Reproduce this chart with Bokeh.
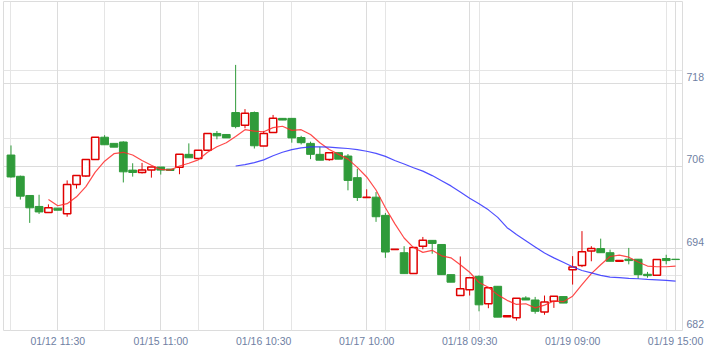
from bokeh.plotting import figure
from bokeh.models import Range1d, LinearAxis, FixedTicker, Grid, ColumnDataSource
from bokeh.embed import file_html
from bokeh.resources import INLINE

# ---- data ----
opens = [707.6, 704.5, 701.7, 700.1, 699.2, 699.85, 699.05, 703.3, 704.55, 706.95,
         710.2, 709.3, 709.5, 705.4, 705.05, 705.4, 705.85, 705.55, 705.8, 707.7,
         707.1, 708.3, 710.75, 710.6, 713.8, 711.95, 713.8, 708.9, 710.9, 712.95,
         712.95, 710.15, 709.3, 707.7, 706.95, 707.95, 707.45, 704.3, 701.4, 701.45,
         698.8, 693.8, 693.35, 690.3, 694.3, 695.15, 694.55, 690.15, 687.1, 687.95,
         689.9, 685.9, 688.45, 684.0, 683.85, 686.75, 686.45, 684.7, 686.25, 686.95,
         690.85, 691.5, 693.6, 693.95, 693.35, 692.1, 692.4, 692.4, 690.2, 690.05,
         692.5, 692.4]
highs = [709.0, 704.6, 701.7, 701.8, 700.4, 699.85, 703.9, 704.6, 706.95, 710.2,
         710.5, 709.3, 709.6, 706.4, 706.45, 705.85, 705.85, 705.55, 707.7, 709.3,
         708.3, 710.75, 711.1, 710.6, 720.75, 714.3, 713.95, 711.1, 713.45, 712.95,
         712.95, 710.4, 709.55, 708.8, 707.95, 707.95, 707.75, 705.6, 702.6, 702.2,
         699.15, 693.85, 694.3, 694.2, 695.65, 695.15, 694.55, 690.15, 692.8, 689.7,
         690.05, 688.25, 688.45, 684.15, 686.7, 687.0, 686.9, 687.1, 687.0, 686.95,
         692.85, 696.5, 694.3, 695.4, 693.8, 692.2, 694.05, 692.4, 690.55, 692.35,
         693.05, 692.4]
lows = [704.3, 701.1, 697.7, 699.0, 699.2, 699.55, 698.6, 702.7, 704.4, 706.95,
        709.1, 708.75, 703.6, 704.45, 704.9, 704.3, 704.75, 705.35, 704.8, 707.2,
        707.1, 708.3, 709.9, 710.1, 711.5, 711.5, 708.55, 708.9, 710.9, 712.7,
        709.4, 709.15, 707.0, 706.85, 706.75, 707.0, 702.45, 700.9, 701.4, 697.85,
        692.6, 693.8, 690.3, 690.3, 693.85, 693.2, 690.15, 689.05, 687.1, 687.1,
        684.8, 685.25, 683.95, 684.0, 683.45, 686.45, 684.45, 684.3, 685.3, 686.0,
        688.7, 691.25, 692.1, 693.35, 692.1, 692.1, 691.65, 689.55, 689.7, 690.05,
        691.65, 692.35]
closes = [704.4, 701.6, 699.9, 699.3, 699.9, 699.55, 703.3, 704.6, 706.95, 710.2,
          709.1, 708.75, 705.15, 705.05, 705.4, 705.85, 705.4, 705.35, 707.7, 707.2,
          708.3, 710.75, 710.4, 710.1, 711.75, 713.7, 708.95, 710.75, 712.95, 712.7,
          710.1, 709.4, 707.7, 706.85, 707.95, 707.0, 703.9, 701.4, 701.45, 698.6,
          693.45, 693.85, 690.3, 694.1, 695.15, 694.7, 690.15, 689.05, 688.1, 689.7,
          685.75, 688.25, 683.95, 684.15, 686.7, 686.45, 684.8, 686.15, 687.0, 686.0,
          691.25, 693.5, 693.95, 693.35, 692.1, 692.2, 692.2, 690.15, 690.0, 692.35,
          692.2, 692.35]

# red average line (starts at candle 4)
ma_red_start = 4
ma_red = [701.1, 700.2, 700.5, 701.5, 703.0, 705.1, 706.7, 707.8, 708.0, 707.6,
          706.8, 706.1, 705.5, 705.4, 706.0, 706.4, 706.9, 708.0, 708.8, 709.4,
          710.3, 711.3, 711.1, 711.0, 711.6, 711.8, 711.2, 711.3, 710.6, 709.4,
          708.4, 707.7, 707.0, 705.8, 704.4, 702.5, 699.9, 697.6, 695.5, 694.1,
          693.4, 693.7, 692.9, 692.6, 691.6, 690.5, 689.0, 688.3, 687.2, 686.4,
          685.8, 685.9, 685.3, 685.7, 686.3, 686.2, 687.0, 688.7, 690.3, 691.6,
          692.8, 693.0, 692.7, 692.0, 691.4, 691.3, 691.3, 691.4]

# blue average line (starts at candle 24)
ma_blue_start = 24
ma_blue = [706.0, 706.2, 706.5, 706.9, 707.5, 708.0, 708.4, 708.65, 708.8, 708.8,
           708.75, 708.65, 708.55, 708.4, 708.15, 707.85, 707.4, 706.8, 706.3, 705.75,
           705.25, 704.6, 703.85, 703.1, 702.2, 701.3, 700.5, 699.6, 698.5, 697.0,
           696.0, 695.1, 694.2, 693.3, 692.6, 691.95, 691.3, 690.75, 690.4, 690.05,
           689.8, 689.7, 689.6, 689.55, 689.45, 689.4, 689.3, 689.2]

x_tick_index = [5, 16, 27, 38, 49, 60, 71]
x_tick_labels = ["01/12 11:30", "01/15 11:00", "01/16 10:30", "01/17 10:00",
                 "01/18 09:30", "01/19 09:00", "01/19 15:00"]
y_ticks = [682, 694, 706, 718]

# ---- styles ----
RED = "#e00000"
GREEN = "#2f9b3a"
GRID = "#dcdcdc"
LABEL = "#6f7fa3"
FONT = "Liberation Sans"

n = len(opens)
idx = list(range(n))

up = [i for i in idx if closes[i] >= opens[i]]
dn = [i for i in idx if closes[i] < opens[i]]


def src(ids):
    return ColumnDataSource(dict(
        x=ids,
        hi=[highs[i] for i in ids],
        lo=[lows[i] for i in ids],
        top=[max(opens[i], closes[i]) for i in ids],
        bot=[min(opens[i], closes[i]) for i in ids],
    ))


up_src = src(up)
dn_src = src(dn)

p = figure(width=721, height=353, output_backend="svg", toolbar_location=None,
           x_range=Range1d(-0.8, 71.74), y_range=Range1d(682, 730),
           x_axis_location=None, y_axis_location=None,
           min_border_left=3, min_border_right=39, min_border_top=1, min_border_bottom=23)
p.outline_line_color = GRID
p.background_fill_color = "white"
p.border_fill_color = "white"
p.extra_y_ranges = {"lab": Range1d(681.05, 729.05)}

p.add_layout(Grid(dimension=0, ticker=FixedTicker(ticks=x_tick_index),
                  grid_line_color=GRID, grid_line_width=1))
p.add_layout(Grid(dimension=1, ticker=FixedTicker(ticks=y_ticks),
                  grid_line_color=GRID, grid_line_width=1))

xaxis = LinearAxis(ticker=FixedTicker(ticks=x_tick_index),
                   major_label_overrides={t: l for t, l in zip(x_tick_index, x_tick_labels)},
                   axis_line_color=None, major_tick_line_color=None, minor_tick_line_color=None,
                   major_tick_in=0, major_tick_out=0, minor_tick_in=0, minor_tick_out=0,
                   major_label_text_font=FONT, major_label_text_font_size="10.5px",
                   major_label_text_color=LABEL, major_label_standoff=4)
p.add_layout(xaxis, "below")

yaxis = LinearAxis(y_range_name="lab", ticker=FixedTicker(ticks=y_ticks),
                   axis_line_color=None, major_tick_line_color=None, minor_tick_line_color=None,
                   major_tick_in=0, major_tick_out=0, minor_tick_in=0, minor_tick_out=0,
                   major_label_text_font=FONT, major_label_text_font_size="10.5px",
                   major_label_text_color=LABEL, major_label_standoff=4)
p.add_layout(yaxis, "right")

# wicks
p.segment(x0="x", y0="lo", x1="x", y1="hi", source=dn_src, line_color=GREEN, line_width=1)
p.segment(x0="x", y0="lo", x1="x", y1="hi", source=up_src, line_color=RED, line_width=1)
# bodies
p.vbar(x="x", width=0.83, top="top", bottom="bot", source=dn_src,
       fill_color=GREEN, line_color=GREEN, line_width=1)
p.vbar(x="x", width=0.78, top="top", bottom="bot", source=up_src,
       fill_color="white", line_color=RED, line_width=1.5)

# average lines
p.line(list(range(ma_red_start, ma_red_start + len(ma_red))), ma_red,
       line_color="#ff2a2a", line_alpha=0.85, line_width=1.2)
p.line(list(range(ma_blue_start, ma_blue_start + len(ma_blue))), ma_blue,
       line_color="#3030ff", line_alpha=0.85, line_width=1.2)

open("out.html", "w").write(file_html(p, INLINE))
